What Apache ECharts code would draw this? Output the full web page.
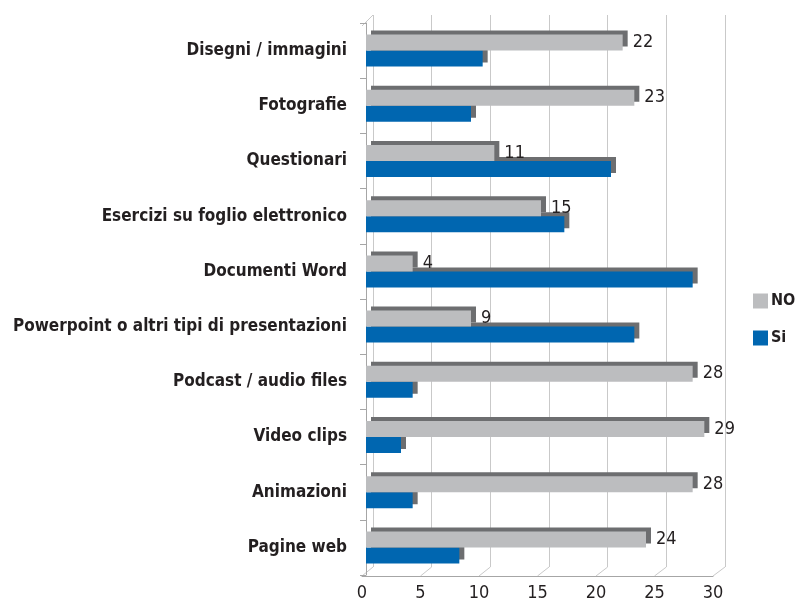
<!DOCTYPE html>
<html>
<head>
<meta charset="utf-8">
<script src="https://cdn.jsdelivr.net/npm/echarts@6/dist/echarts.min.js"></script>
<style>
  html, body { margin: 0; padding: 0; background: #fff; }
  #main { width: 797px; height: 599px; }
</style>
</head>
<body>
<div id="main"></div>
<script>
// categories top -> bottom
const categories = [
  'Disegni / immagini',
  'Fotografie',
  'Questionari',
  'Esercizi su foglio elettronico',
  'Documenti Word',
  'Powerpoint o altri tipi di presentazioni',
  'Podcast / audio files',
  'Video clips',
  'Animazioni',
  'Pagine web'
];
const noValues = [22, 23, 11, 15, 4, 9, 28, 29, 28, 24];
const siValues = [10, 9, 21, 17, 28, 23, 4, 3, 4, 8];
const xTicks = [0, 5, 10, 15, 20, 25, 30];

const FONT = "'DejaVu Sans Condensed', 'Liberation Sans', sans-serif";
const TXT = '#231f20';

const chartDom = document.getElementById('main');
const myChart = echarts.init(chartDom);
let option;

option = {
  animation: false,
  backgroundColor: '#fff',
  legend: {
    data: ['NO', 'Si'],
    orient: 'vertical',
    left: 748,
    top: 288,
    icon: 'rect',
    itemWidth: 15,
    itemHeight: 15,
    itemGap: 21,
    textStyle: { fontFamily: FONT, fontWeight: 'bold', fontSize: 16, color: TXT, padding: [0, 0, 0, -2] }
  },
  grid: [
    // back wall
    { left: 373, right: 72, top: 15, bottom: 32, outerBoundsMode: 'none' },
    // bars plane
    { left: 366, right: 81, top: 23, bottom: 24, outerBoundsMode: 'none' },
    // front floor edge (tick labels)
    { left: 362, right: 84, top: 26, bottom: 23, outerBoundsMode: 'none' }
  ],
  xAxis: [
    {
      gridIndex: 0, type: 'value', min: 0, max: 30, interval: 5,
      axisLine: { show: false }, axisTick: { show: false }, axisLabel: { show: false },
      splitLine: { show: true, lineStyle: { color: '#c9c9c9', width: 1 } }
    },
    {
      gridIndex: 1, type: 'value', min: 0, max: 30, interval: 5, show: false
    },
    {
      gridIndex: 2, type: 'value', min: 0, max: 30, interval: 5,
      axisLine: { show: true, lineStyle: { color: '#a6a6a6', width: 1 } },
      axisTick: { show: false },
      splitLine: { show: false },
      axisLabel: {
        margin: 8, fontFamily: FONT, fontSize: 18, color: TXT,
        formatter: v => xTicks.indexOf(v) >= 0 ? String(v) : ''
      }
    }
  ],
  yAxis: [
    { gridIndex: 0, type: 'category', data: categories, inverse: true, show: false },
    {
      gridIndex: 1, type: 'category', data: categories, inverse: true,
      offset: 4,
      axisLine: { show: true, lineStyle: { color: '#a6a6a6', width: 1 } },
      axisTick: { show: true, length: 6, lineStyle: { color: '#a6a6a6' } },
      axisLabel: { margin: 15, fontFamily: FONT, fontWeight: 'bold', fontSize: 17, color: TXT }
    },
    { gridIndex: 2, type: 'category', data: categories, inverse: true, show: false }
  ],
  series: [
    {
      name: 'NO',
      type: 'bar',
      xAxisIndex: 1,
      yAxisIndex: 1,
      data: noValues,
      z: 3,
      barGap: '0%',
      barCategoryGap: '42%',
      itemStyle: {
        color: '#bcbdbf',
        shadowColor: '#6d6e70', shadowBlur: 0, shadowOffsetX: 5, shadowOffsetY: -4
      },
      label: {
        show: true, position: 'right', distance: 10,
        fontFamily: FONT, fontSize: 18, color: TXT
      }
    },
    {
      name: 'Si',
      type: 'bar',
      xAxisIndex: 1,
      yAxisIndex: 1,
      data: siValues,
      z: 2,
      barGap: '0%',
      barCategoryGap: '42%',
      itemStyle: {
        color: '#0066b0',
        shadowColor: '#6d6e70', shadowBlur: 0, shadowOffsetX: 5, shadowOffsetY: -4
      }
    }
  ]
};

option && myChart.setOption(option);

// 3D frame lines: link back-wall grid lines to front floor edge
const lines = [];
const backBottom = 599 - 32;
const frontBottom = 599 - 23;
xTicks.forEach(v => {
  const xb = myChart.convertToPixel({ xAxisIndex: 0 }, v);
  const xf = myChart.convertToPixel({ xAxisIndex: 2 }, v);
  lines.push({
    type: 'line', silent: true,
    shape: { x1: xb, y1: backBottom, x2: xf, y2: frontBottom },
    style: { stroke: '#c9c9c9', lineWidth: 1 }
  });
});
const xb0 = myChart.convertToPixel({ xAxisIndex: 0 }, 0);
const xf0 = myChart.convertToPixel({ xAxisIndex: 2 }, 0);
lines.push({
  type: 'line', silent: true,
  shape: { x1: xf0, y1: 26, x2: xb0, y2: 15 },
  style: { stroke: '#c9c9c9', lineWidth: 1 }
});
myChart.setOption({ graphic: lines });
</script>
</body>
</html>
